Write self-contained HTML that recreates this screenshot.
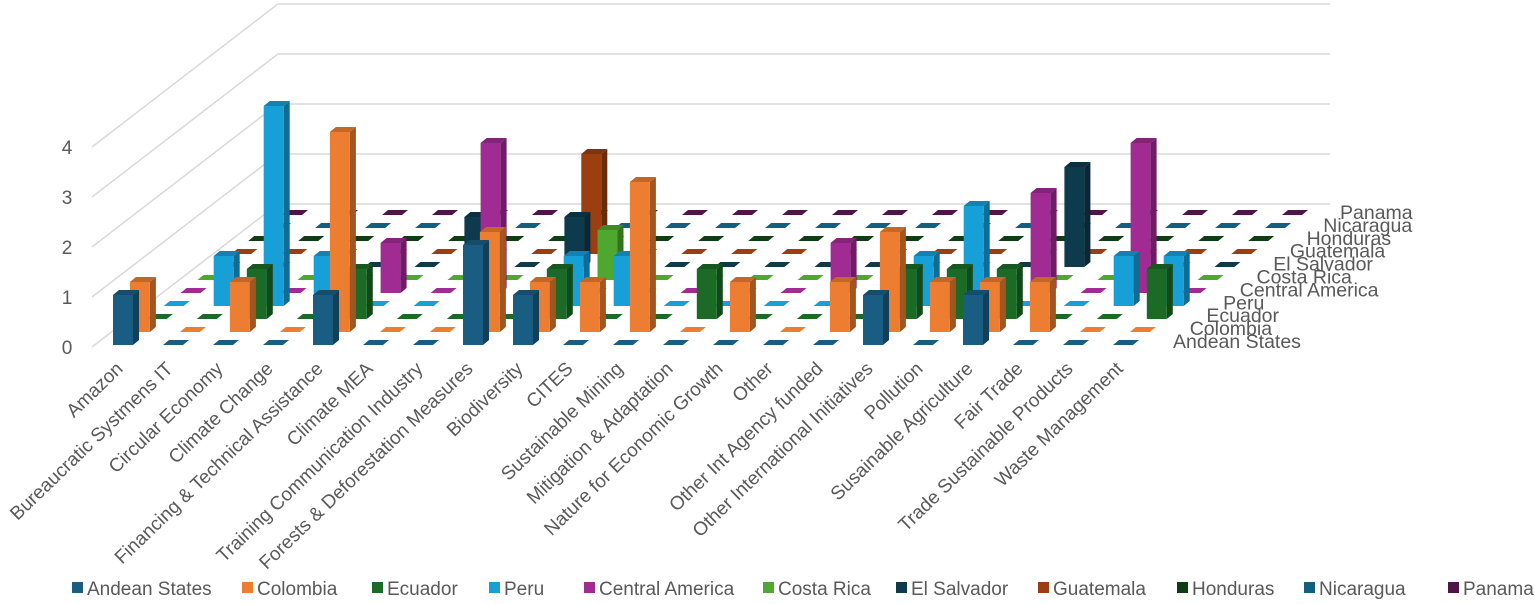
<!DOCTYPE html>
<html><head><meta charset="utf-8">
<style>
html,body{margin:0;padding:0;background:#fff;}
svg{display:block;font-family:"Liberation Sans",sans-serif;}
</style></head>
<body>
<svg id="chart" width="1535" height="604" viewBox="0 0 1535 604" xmlns="http://www.w3.org/2000/svg">
<g id="grid"></g>
<g id="yticks"></g>
<g id="bars"></g>
<g id="series-labels"></g>
<g id="cat-labels"></g>
<g id="legend"></g>
</svg>
<script>
const categories = ["Amazon","Bureaucratic Systmens IT","Circular Economy","Climate Change","Financing & Technical Assistance","Climate MEA","Training Communication Industry","Forests & Deforestation Measures","Biodiversity","CITES","Sustainable Mining","Mitigation & Adaptation","Nature for Economic Growth","Other","Other Int Agency funded","Other International Initiatives","Pollution","Susainable Agriculture","Fair Trade","Trade Sustainable Products","Waste Management"];
const seriesNames = ["Andean States","Colombia","Ecuador","Peru","Central America","Costa Rica","El Salvador","Guatemala","Honduras","Nicaragua","Panama"];
const seriesColors = ["#195e82","#ed7d31","#1b6b26","#179fd7","#a02b93","#4ea72e","#0e3a4e","#9c3f10","#0f3d14","#135f80","#4f1548"];
const andean     = [1,0,0,0,1,0,0,2,1,0,0,0,0,0,0,1,0,1,0,0,0];
const colombia   = [1,0,1,0,4,0,0,2,1,1,3,0,1,0,1,2,1,1,1,0,0];
const ecuador    = [0,0,1,0,1,0,0,0,1,0,0,1,0,0,0,1,1,1,0,0,1];
const peru       = [0,1,4,1,0,0,0,0,1,1,0,0,0,0,0,1,2,0,0,1,1];
const centralAm  = [0,0,0,0,1,0,3,0,0,0,0,0,0,1,0,0,0,2,0,3,0];
const costaRica  = [0,0,0,0,0,0,0,0,1,0,0,0,0,0,0,0,0,0,0,0,0];
const elSalvador = [0,0,0,0,0,1,0,1,0,0,0,0,0,0,0,0,0,2,0,0,0];
const guatemala  = [0,0,0,0,0,0,0,2,0,0,0,0,0,0,0,0,0,0,0,0,0];
const honduras   = [0,0,0,0,0,0,0,0,0,0,0,0,0,0,0,0,0,0,0,0,0];
const nicaragua  = [0,0,0,0,0,0,0,0,0,0,0,0,0,0,0,0,0,0,0,0,0];
const panama     = [0,0,0,0,0,0,0,0,0,0,0,0,0,0,0,0,0,0,0,0,0];
const yTicks = [0,1,2,3,4];

const NS="http://www.w3.org/2000/svg";
const allSeries=[andean,colombia,ecuador,peru,centralAm,costaRica,elSalvador,guatemala,honduras,nicaragua,panama];
const UNIT=50, ROWDX=16.9, ROWDY=-13, CATW=50, X0=113, Y0=345, BW=20, DX=6, DY=-5;
function xPos(c,r){return X0+ROWDX*r+CATW*c;}
function yBase(r){return Y0+ROWDY*r;}
function hVal(v){return v*UNIT;}
function shade(hex,f){const n=parseInt(hex.slice(1),16);const r=Math.round(((n>>16)&255)*f),g=Math.round(((n>>8)&255)*f),b=Math.round((n&255)*f);return `rgb(${r},${g},${b})`;}
function mk(tag,attrs,parent){const e=document.createElementNS(NS,tag);for(const k in attrs)e.setAttribute(k,attrs[k]);parent.appendChild(e);return e;}

// gridlines
const grid=document.getElementById('grid');
const backX=92+ROWDX*11, backDY=ROWDY*11;
yTicks.forEach(t=>{
  const yf=Y0+2-hVal(t);
  const d=mk('line',{x1:92,y1:yf,x2:backX,y2:yf+backDY,stroke:"#d9d9d9","stroke-width":1.5},grid);
  
  
  const h=mk('line',{x1:backX,y1:yf+backDY,x2:1330,y2:yf+backDY,stroke:"#d9d9d9","stroke-width":1.5},grid);
  
  
});
// y ticks
const yt=document.getElementById('yticks');
yTicks.forEach(t=>{
  const tx=mk('text',{x:67,y:Y0+9-hVal(t),"font-size":19,fill:"#595959","text-anchor":"middle"},yt);
  tx.textContent=t;
  
  
});
// bars
const bars=document.getElementById('bars');
for(let r=seriesNames.length-1;r>=0;r--){
  const data=allSeries[r], col=seriesColors[r];
  data.forEach((v,c)=>{
    const x=xPos(c,r), b=yBase(r), h=hVal(v);
    const g=mk('g',{},bars);
    if(v<=0){
      
      
      mk('polygon',{points:`${x},${b} ${x+BW},${b} ${x+BW+DX},${b+DY} ${x+DX},${b+DY}`,fill:col},g);
      return;
    }
    
    
    const t=b-h;
    mk('polygon',{points:`${x+BW},${b} ${x+BW+DX},${b+DY} ${x+BW+DX},${t+DY} ${x+BW},${t}`,fill:shade(col,0.68)},g);
    mk('polygon',{points:`${x},${t} ${x+BW},${t} ${x+BW+DX},${t+DY} ${x+DX},${t+DY}`,fill:shade(col,0.82)},g);
    mk('rect',{x:x,y:t,width:BW,height:h,fill:col},g);
  });
}
// series labels
const sl=document.getElementById('series-labels');
seriesNames.forEach((n,r)=>{
  const tx=mk('text',{x:1173+16.7*r,y:348-12.9*r,"font-size":19.5,fill:"#595959"},sl);
  tx.textContent=n;
  
  
});
// category labels
const cl=document.getElementById('cat-labels');
categories.forEach((n,c)=>{
  const ex=124+CATW*c, ey=370;
  const tx=mk('text',{x:ex,y:ey,"font-size":19,fill:"#595959","text-anchor":"end",transform:`rotate(-44 ${ex} ${ey})`},cl);
  tx.textContent=n;
  
  
});
// legend
const lg=document.getElementById('legend');
const legX=[72,242,372,489,584,763,896,1038,1177,1304,1448];
seriesNames.forEach((n,i)=>{
  const g=mk('g',{},lg);
  
  
  mk('rect',{x:legX[i],y:582,width:11,height:11,fill:seriesColors[i]},g);
  const tx=mk('text',{x:legX[i]+15,y:595,"font-size":19,fill:"#595959"},g);
  tx.textContent=n;
});
</script>
</body></html>
